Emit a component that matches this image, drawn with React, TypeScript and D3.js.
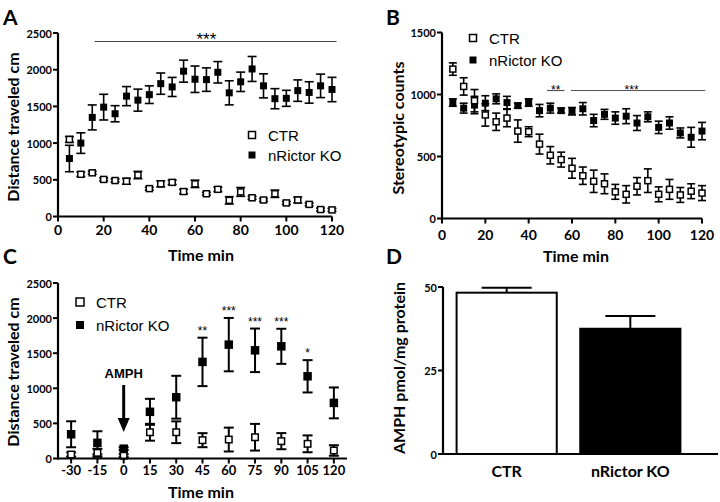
import React from "react"
import * as d3 from "d3"

// panel A / B time course (5 min bins)
const timeAB = [5, 10, 15, 20, 25, 30, 35, 40, 45, 50, 55, 60, 65, 70, 75, 80, 85, 90, 95, 100, 105, 110, 115, 120]

const ctrA = [1050, 575, 595, 505, 490, 480, 565, 380, 445, 465, 340, 445, 310, 370, 220, 335, 255, 225, 310, 185, 225, 165, 95, 90]
const ctrAErr = [40, 30, 20, 20, 20, 40, 50, 20, 40, 30, 30, 50, 20, 30, 50, 60, 20, 20, 50, 20, 40, 20, 20, 20]
const koA = [790, 1000, 1350, 1490, 1400, 1640, 1585, 1660, 1810, 1765, 1980, 1870, 1865, 1965, 1685, 1835, 2010, 1780, 1605, 1610, 1715, 1690, 1780, 1730]
const koAErr = [180, 140, 170, 175, 110, 130, 150, 120, 145, 130, 150, 180, 160, 146, 164, 132, 170, 164, 137, 109, 146, 146, 160, 166]

const ctrB = [1205, 1065, 950, 835, 780, 810, 705, 700, 600, 510, 475, 405, 345, 300, 280, 215, 195, 260, 305, 195, 235, 190, 220, 205]
const ctrBErr = [50, 70, 90, 90, 70, 70, 90, 40, 80, 70, 60, 80, 70, 90, 80, 60, 70, 70, 95, 60, 80, 60, 60, 60]
const koB = [935, 890, 915, 930, 965, 935, 910, 935, 870, 890, 870, 865, 885, 790, 840, 810, 825, 770, 820, 735, 770, 690, 655, 705]
const koBErr = [30, 40, 70, 60, 40, 50, 20, 30, 50, 40, 20, 30, 50, 50, 40, 50, 60, 60, 40, 50, 50, 40, 80, 70]

// panel C, AMPH injection at 0
const timeC = [-30, -15, 0, 15, 30, 45, 60, 75, 90, 105, 120]
const ctrC = [57, 81, 40, 374, 374, 261, 270, 303, 247, 209, 114]
const ctrCErr = [30, 57, 20, 120, 155, 100, 170, 190, 115, 120, 75]
const koC = [345, 223, 140, 665, 873, 1376, 1622, 1541, 1598, 1171, 792]
const koCErr = [185, 165, 20, 185, 305, 345, 380, 310, 250, 230, 220]
const sigCTimes = [45, 60, 75, 90, 105]
const sigCLabels = ["**", "***", "***", "***", "*"]

// panel D
const groupsD = ["CTR", "nRictor KO"]
const valuesD = [48.3, 37.5]
const errD = [1.5, 3.8]

const yTicksA = [0, 500, 1000, 1500, 2000, 2500]
const xTicksAB = [0, 20, 40, 60, 80, 100, 120]
const yTicksB = [0, 500, 1000, 1500]
const yTicksD = [0, 25, 50]

// significance bars: span in minutes, label at time "at"
const sigA = [{ from: 16, to: 122, at: 65, label: "***" }]
const sigB = [
  { from: 48.5, to: 56.5, at: 52.5, label: "**" },
  { from: 59.5, to: 121.5, at: 87.5, label: "***" },
]

const BOLD = "Lato, 'Open Sans', sans-serif"
const ARIAL = "'Liberation Sans', Arial, sans-serif"

function YAxis({ y, ticks, x0, fontSize = 11 }: any) {
  const r = y.range()
  return (
    <g>
      <line x1={x0} x2={x0} y1={r[0] + 1} y2={y(ticks[ticks.length - 1])} stroke="#000" strokeWidth={2.2} />
      {ticks.map((v: number) => (
        <g key={v}>
          <line x1={x0 - 5} x2={x0} y1={y(v)} y2={y(v)} stroke="#000" strokeWidth={2} />
          <text x={x0 - 6} y={y(v)} textAnchor="end" dominantBaseline="central" fontFamily={BOLD} fontWeight="bold" fontSize={fontSize}>
            {v}
          </text>
        </g>
      ))}
    </g>
  )
}

function XAxis({ x, ticks, y0, labelY, fontSize = 14 }: any) {
  const r = x.range()
  return (
    <g>
      <line x1={r[0] - 1} x2={r[1]} y1={y0} y2={y0} stroke="#000" strokeWidth={2.2} />
      {ticks.map((v: number) => (
        <g key={v}>
          <line x1={x(v)} x2={x(v)} y1={y0} y2={y0 + 5} stroke="#000" strokeWidth={2} />
          <text x={x(v)} y={labelY} textAnchor="middle" fontFamily={BOLD} fontWeight="bold" fontSize={fontSize}>
            {v}
          </text>
        </g>
      ))}
    </g>
  )
}

function Series({ xs, ys, errs, x, y, filled, size, cap, sw }: any) {
  return (
    <g>
      {xs.map((t: number, i: number) => {
        const cx = x(t)
        const top = y(ys[i] + errs[i])
        const bot = y(Math.max(0, ys[i] - errs[i]))
        return (
          <g key={"e" + i} stroke="#000" strokeWidth={sw}>
            <line x1={cx} x2={cx} y1={top} y2={bot} />
            <line x1={cx - cap / 2} x2={cx + cap / 2} y1={top} y2={top} />
            <line x1={cx - cap / 2} x2={cx + cap / 2} y1={bot} y2={bot} />
          </g>
        )
      })}
      {xs.map((t: number, i: number) => {
        const s = filled ? size : size - 1.5
        return (
          <rect
            key={"m" + i}
            x={x(t) - s / 2}
            y={y(ys[i]) - s / 2}
            width={s}
            height={s}
            fill={filled ? "#000" : "#fff"}
            stroke="#000"
            strokeWidth={filled ? 0 : 1.5}
          />
        )
      })}
    </g>
  )
}

function Legend({ x0, y0, gap, size }: any) {
  return (
    <g fontFamily={ARIAL} fontSize={15}>
      <rect x={x0 - size / 2} y={y0 - size / 2} width={size} height={size} fill="#fff" stroke="#000" strokeWidth={1.5} />
      <text x={x0 + 16} y={y0} dominantBaseline="central">CTR</text>
      <rect x={x0 - size / 2} y={y0 + gap - size / 2} width={size} height={size} fill="#000" />
      <text x={x0 + 16} y={y0 + gap} dominantBaseline="central">nRictor KO</text>
    </g>
  )
}

function YTitle({ x, y, text }: any) {
  return (
    <text transform={`translate(${x},${y}) rotate(-90)`} textAnchor="middle" dominantBaseline="central" fontFamily={BOLD} fontWeight="bold" fontSize={16}>
      {text}
    </text>
  )
}

function Title({ x, y, text, size = 16 }: any) {
  return (
    <text x={x} y={y} textAnchor="middle" fontFamily={BOLD} fontWeight="bold" fontSize={size}>
      {text}
    </text>
  )
}

export default function App() {
  // A
  const xA = d3.scaleLinear().domain([0, 120]).range([58, 332])
  const yA = d3.scaleLinear().domain([0, 2500]).range([216.5, 33])
  // B
  const xB = d3.scaleLinear().domain([0, 120]).range([442, 702])
  const yB = d3.scaleLinear().domain([0, 1500]).range([218.5, 32.5])
  // C
  const xC = d3.scaleLinear().domain([-37.5, 127.5]).range([58, 347])
  const yC = d3.scaleLinear().domain([0, 2500]).range([458.5, 283])
  // D
  const xD = d3.scaleBand().domain(groupsD).range([443, 694]).paddingInner(0.19).paddingOuter(0.11)
  const yD = d3.scaleLinear().domain([0, 50]).range([454, 287])

  return (
    <svg width={720} height={502} style={{ position: "absolute", left: 0, top: 0, background: "#fff" }}>
      <rect width={720} height={502} fill="#fff" />

      {/* panel letters */}
      <g fontFamily={BOLD} fontWeight="bold" fontSize={21}>
        <text x={3} y={25}>A</text>
        <text x={386} y={25}>B</text>
        <text x={3} y={264}>C</text>
        <text x={386} y={264}>D</text>
      </g>

      {/* ---------- A ---------- */}
      <YTitle x={12} y={127} text="Distance traveled cm" />
      <Title x={201} y={261} text="Time min" />
      {sigA.map((s, i) => (
        <g key={i}>
          <line x1={xA(s.from)} x2={xA(s.to)} y1={41.5} y2={41.5} stroke="#444" strokeWidth={1.2} />
          <text x={xA(s.at)} y={45} textAnchor="middle" fontFamily={ARIAL} fontSize={17}>{s.label}</text>
        </g>
      ))}
      <Series xs={timeAB} ys={koA} errs={koAErr} x={xA} y={yA} filled size={7} cap={9} sw={1.6} />
      <Series xs={timeAB} ys={ctrA} errs={ctrAErr} x={xA} y={yA} filled={false} size={7.5} cap={9} sw={1.6} />
      <YAxis y={yA} ticks={yTicksA} x0={58} />
      <XAxis x={xA} ticks={xTicksAB} y0={216.5} labelY={235} />
      <Legend x0={252} y0={135} gap={20} size={7} />

      {/* ---------- B ---------- */}
      <YTitle x={397} y={128} text="Stereotypic counts" />
      <Title x={576} y={262} text="Time min" />
      {sigB.map((s, i) => (
        <g key={i}>
          <line x1={xB(s.from)} x2={xB(s.to)} y1={90.5} y2={90.5} stroke="#555" strokeWidth={1.2} />
          <text x={xB(s.at)} y={94} textAnchor="middle" fontFamily={ARIAL} fontSize={12}>{s.label}</text>
        </g>
      ))}
      <Series xs={timeAB} ys={koB} errs={koBErr} x={xB} y={yB} filled size={7} cap={8} sw={1.6} />
      <Series xs={timeAB} ys={ctrB} errs={ctrBErr} x={xB} y={yB} filled={false} size={7.5} cap={8} sw={1.6} />
      <YAxis y={yB} ticks={yTicksB} x0={442} />
      <XAxis x={xB} ticks={xTicksAB} y0={218.5} labelY={240} />
      <Legend x0={473} y0={38} gap={22} size={7} />

      {/* ---------- C ---------- */}
      <YTitle x={12} y={372} text="Distance traveled cm" />
      <Title x={201} y={498} text="Time min" />
      <Series xs={timeC} ys={koC} errs={koCErr} x={xC} y={yC} filled size={8.5} cap={10} sw={2} />
      <Series xs={timeC} ys={ctrC} errs={ctrCErr} x={xC} y={yC} filled={false} size={8} cap={10} sw={2} />
      {sigCTimes.map((t, i) => {
        const k = timeC.indexOf(t)
        return (
          <text key={t} x={xC(t)} y={yC(koC[k] + koCErr[k]) - 3} textAnchor="middle" fontFamily={ARIAL} fontSize={12}>
            {sigCLabels[i]}
          </text>
        )
      })}
      <YAxis y={yC} ticks={yTicksA} x0={58} />
      <XAxis x={xC} ticks={timeC} y0={458.5} labelY={475} fontSize={13} />
      <Legend x0={80} y0={302} gap={23} size={8} />
      {/* AMPH injection arrow */}
      <text x={xC(0)} y={378} textAnchor="middle" fontFamily={ARIAL} fontWeight="bold" fontSize={13}>AMPH</text>
      <line x1={xC(0)} x2={xC(0)} y1={385} y2={420} stroke="#000" strokeWidth={3} />
      <polygon points={`${xC(0) - 6},418 ${xC(0) + 6},418 ${xC(0)},432`} fill="#000" />

      {/* ---------- D ---------- */}
      <YTitle x={398} y={368} text="AMPH pmol/mg protein" />
      {groupsD.map((g, i) => {
        const bx = xD(g) as number
        const bw = xD.bandwidth()
        const cx = bx + bw / 2
        const top = yD(valuesD[i])
        const et = yD(valuesD[i] + errD[i])
        return (
          <g key={g}>
            <line x1={cx} x2={cx} y1={top} y2={et} stroke="#000" strokeWidth={2} />
            <line x1={cx - bw / 4} x2={cx + bw / 4} y1={et} y2={et} stroke="#000" strokeWidth={2} />
            <rect x={bx} y={top} width={bw} height={yD(0) - top} fill={i === 0 ? "#fff" : "#000"} stroke="#000" strokeWidth={2} />
            <text x={cx} y={477} textAnchor="middle" fontFamily={BOLD} fontWeight="bold" fontSize={16}>{g}</text>
          </g>
        )
      })}
      <YAxis y={yD} ticks={yTicksD} x0={443} />
      <line x1={442} x2={718} y1={yD(0)} y2={yD(0)} stroke="#000" strokeWidth={2.2} />
    </svg>
  )
}
